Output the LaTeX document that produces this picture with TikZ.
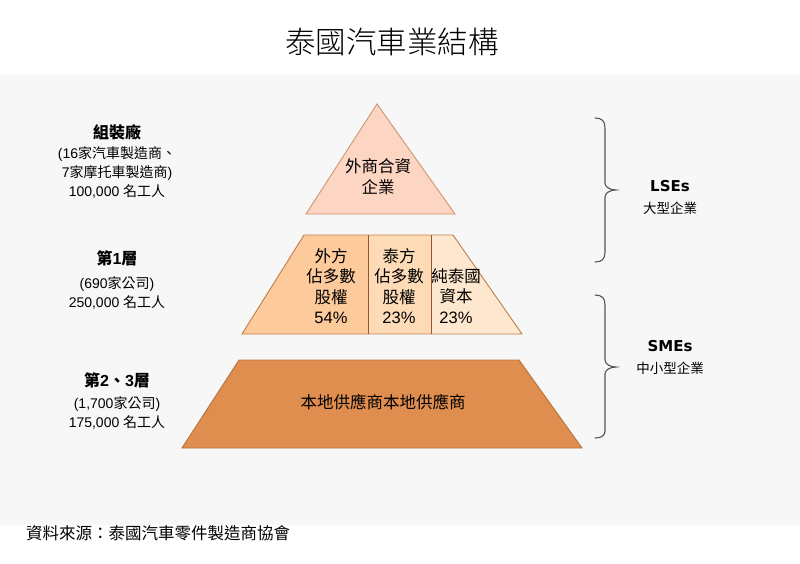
\documentclass[tikz,border=0pt]{standalone}
\usepackage{fontspec}
\setmainfont{Noto Sans CJK TC}
\newfontfamily\arialf{Liberation Sans}
\newfontfamily\dejaf{DejaVu Sans}
\newfontfamily\titlef{Noto Sans CJK TC Light}
\newcommand\ar[1]{{\arialf #1}}
\definecolor{bgc}{HTML}{F7F7F7}
\definecolor{trifill}{HTML}{FCD6C2}
\definecolor{triline}{HTML}{CF9570}
\definecolor{cA}{HTML}{FDCA9C}
\definecolor{cB}{HTML}{FDDBB7}
\definecolor{cC}{HTML}{FEE7CF}
\definecolor{midline}{HTML}{C07E4A}
\definecolor{divline}{HTML}{9C5525}
\definecolor{botfill}{HTML}{DF8E50}
\definecolor{botline}{HTML}{B5733A}
\definecolor{bracec}{HTML}{555555}
\begin{document}
\begin{tikzpicture}[x=1pt,y=-1pt,
  head/.style={inner sep=0pt, font=\bfseries\fontsize{16}{20}\selectfont},
  detail/.style={align=center, inner sep=0pt, font=\fontsize{14}{19}\selectfont},
  inner/.style={align=center, inner sep=0pt, font=\fontsize{16.5}{20.5}\selectfont},
  engl/.style={inner sep=0pt, font=\dejaf\bfseries\fontsize{15}{18}\selectfont},
  sub/.style={inner sep=0pt, font=\fontsize{13.5}{17}\selectfont},
  bracestyle/.style={draw=bracec, line width=1.1pt, line cap=round}]
\useasboundingbox (0,0) rectangle (800,563);
\fill[white] (0,0) rectangle (800,563);
\fill[bgc] (0,75) rectangle (800,525);
% title
\node[inner sep=0pt, font=\titlef\fontsize{30.5}{36}\selectfont] (title) at (392,42) {泰國汽車業結構};
% left labels
\node[head] (h1) at (117,132) {組裝廠};
\node[detail] (d1) at (117,172) {\ar{(16}家汽車製造商、\\\ar{7}家摩托車製造商\ar{)}\\\ar{100,000 }名工人};
\node[head] (h2) at (117,258) {第\ar{1}層};
\node[detail] (d2) at (117,292.5) {\ar{(690}家公司\ar{)}\\\ar{250,000 }名工人};
\node[head] (h3) at (117,380) {第\ar{2}、\ar{3}層};
\node[detail] (d3) at (117,413) {\ar{(1,700}家公司\ar{)}\\\ar{175,000 }名工人};
% triangle
\draw[fill=trifill, draw=triline, line width=0.9pt] (377,104) -- (455,214) -- (306,214) -- cycle;
\node[inner] (t1) at (378,176.5) {外商合資\\企業};
% middle trapezoid
\fill[cA] (304,235) -- (368,235) -- (368,334) -- (242,334) -- cycle;
\fill[cB] (368,235) rectangle (431,334);
\fill[cC] (431,235) -- (453,235) -- (522,334) -- (431,334) -- cycle;
\draw[midline, line width=0.9pt] (304,235) -- (453,235) -- (522,334) -- (242,334) -- cycle;
\draw[divline, line width=0.9pt] (368,235) -- (368,334) (431,235) -- (431,334);
\node[inner] (m1) at (331,286) {外方\\佔多數\\股權\\\ar{54\%}};
\node[inner] (m2) at (399,286) {泰方\\佔多數\\股權\\\ar{23\%}};
\node[inner] (m3) at (456,296) {純泰國\\資本\\\ar{23\%}};
% bottom trapezoid
\draw[fill=botfill, draw=botline, line width=0.9pt] (239,360) -- (519,360) -- (582,448) -- (182,448) -- cycle;
\node[inner] (b1) at (383,402) {本地供應商本地供應商};
% braces
\draw[bracestyle] (595,118) .. controls (602,118) and (605,121) .. (605,128) -- (605,183)
  .. controls (605,187) and (610,190) .. (616,190) .. controls (610,190) and (605,193) .. (605,197)
  -- (605,252) .. controls (605,259) and (602,262) .. (595,262);
\draw[bracestyle] (595,295) .. controls (602,295) and (605,298) .. (605,305) -- (605,360)
  .. controls (605,364) and (610,367) .. (616,367) .. controls (610,367) and (605,370) .. (605,374)
  -- (605,431) .. controls (605,435) and (602,438) .. (595,438);
\node[engl] (lse) at (670,186) {LSEs};
\node[sub] (lsec) at (670,208) {大型企業};
\node[engl] (sme) at (670,346) {SMEs};
\node[sub] (smec) at (670,368) {中小型企業};
% footer
\node[inner sep=0pt, anchor=west, font=\fontsize{16.5}{20}\selectfont] (src) at (26,533) {資料來源：泰國汽車零件製造商協會};
\end{tikzpicture}
\end{document}
